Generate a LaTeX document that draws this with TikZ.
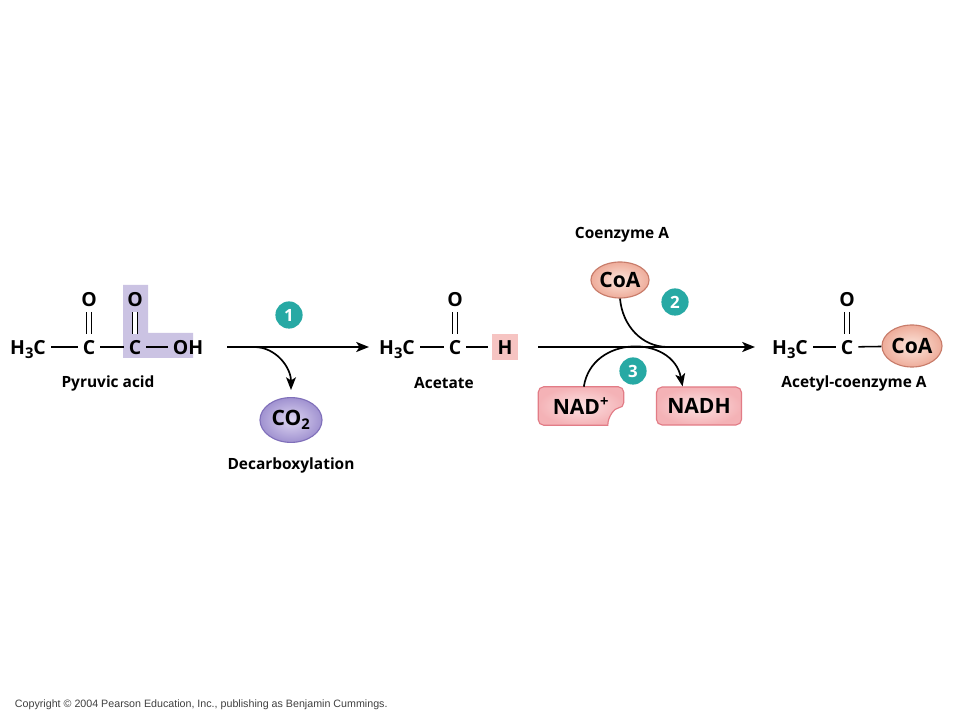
\documentclass[tikz,border=0pt]{standalone}
\usepackage{fontspec}
\setmainfont{Open Sans}
\newfontfamily\copyfont{Liberation Sans}
\usetikzlibrary{arrows.meta,shapes.geometric}
\definecolor{lavhl}{RGB}{203,195,227}
\definecolor{lavin}{RGB}{222,214,242}
\definecolor{lavout}{RGB}{160,146,208}
\definecolor{lavline}{RGB}{128,112,186}
\definecolor{pinkhl}{RGB}{246,196,194}
\definecolor{nadin}{RGB}{252,226,226}
\definecolor{nadout}{RGB}{244,178,182}
\definecolor{nadline}{RGB}{226,124,134}
\definecolor{coain}{RGB}{252,230,220}
\definecolor{coaout}{RGB}{238,172,154}
\definecolor{coaline}{RGB}{200,124,106}
\definecolor{tealnum}{RGB}{39,169,164}
\newcommand{\subthree}{\raisebox{-0.45ex}{\fontsize{10.5}{11}\selectfont 3}}
\tikzset{
	atom/.style={font=\fontsize{13.8}{16}\selectfont\bfseries, inner sep=1pt, text height=10pt, text depth=0pt},
	lbl/.style={font=\fontsize{11}{13}\selectfont\bfseries},
	bond/.style={line width=1.1pt, shorten <=2.5pt, shorten >=2.5pt},
	dbond/.style={double, double distance=2.8pt, line width=0.9pt, shorten <=3pt, shorten >=3pt},
	stepnum/.style={circle, fill=tealnum, text=white, font=\fontsize{12}{12}\selectfont\bfseries, minimum size=0.68cm, inner sep=0pt},
	lavell/.style={ellipse, draw=lavline, line width=0.8pt, inner color=lavin, outer color=lavout, font=\fontsize{15}{15}\selectfont\bfseries, inner sep=0pt},
	coaell/.style={ellipse, draw=coaline, line width=0.8pt, inner color=coain, outer color=coaout, font=\fontsize{15}{15}\selectfont\bfseries, inner sep=0pt},
	nadbox/.style={draw=nadline, line width=0.8pt, inner color=nadin, outer color=nadout},
	rxn/.style={line width=1.7pt},
	side/.style={line width=1.2pt}
}
\begin{document}
\begin{tikzpicture}[x=0.025cm,y=-0.025cm,>={Stealth[length=9pt,width=7pt,inset=2.2pt]}]
	\useasboundingbox (0,0) rectangle (960,720);
	\fill[white] (0,0) rectangle (960,720);

	\fill[lavhl] (123,285) -- (148,285) -- (148,333) -- (193,333) -- (193,358) -- (123,358) -- cycle;
	\node[atom] (h3ca) at (28,347) {H\subthree C}; \node[atom] (c1a) at (89,347) {C};
	\node[atom] (c2a) at (135,347) {C}; \node[atom] (oha) at (188,347) {OH};
	\node[atom] (o1a) at (89,299) {O}; \node[atom] (o2a) at (135,299) {O};
	\draw[bond] (h3ca) -- (c1a); \draw[bond] (c1a) -- (c2a); \draw[bond] (c2a) -- (oha);
	\draw[dbond] (o1a) -- (c1a); \draw[dbond] (o2a) -- (c2a);
	\node[lbl] (pyr) at (108,383) {Pyruvic acid};

	\coordinate (r1s) at (227,347); \coordinate (r1e) at (369,347); \coordinate (r1b) at (254,347);
	\node[stepnum] (n1) at (289,315) {1};
	\node[lavell, minimum width=1.55cm, minimum height=1.12cm] (co2) at (291,420) {CO\textsubscript{2}};
	\node[lbl] (decarb) at (291,465) {Decarboxylation};
	\draw[rxn,->] (r1s) -- (r1e);
	\draw[side,->] (r1b) to[out=0,in=90] ([yshift=5pt]co2.north);

	\node[atom] (h3cb) at (397,347) {H\subthree C}; \node[atom] (cb) at (455,347) {C};
	\node[atom, fill=pinkhl, minimum width=0.65cm, minimum height=0.65cm, inner sep=0pt] (hb) at (505,347) {H};
	\node[atom] (ob) at (455,299) {O};
	\draw[bond] (h3cb) -- (cb); \draw[bond] (cb) -- (hb); \draw[dbond] (ob) -- (cb);
	\node[lbl] (acet) at (444,383) {Acetate};

	\coordinate (r2s) at (538,347); \coordinate (r2e) at (755,347); \coordinate (r2m) at (668,347);
	\node[lbl] (coename) at (622,235) {Coenzyme A};
	\node[coaell, minimum width=1.35cm, minimum height=0.9cm] (coa) at (620,280) {CoA};
	\node[stepnum] (n2) at (675,302) {2};
	\node[stepnum] (n3) at (633,371) {3};
	\node[minimum width=2.125cm, minimum height=0.95cm] (nad) at (581,406) {};
	\shade[nadbox, rounded corners=4pt] ([xshift=-0.4cm]nad.south east) -- (nad.south west) -- (nad.north west) -- (nad.north east) -- ([yshift=0.43cm]nad.south east) [sharp corners] .. controls +(-9,0) and +(0,-9) .. ([xshift=-0.4cm]nad.south east) -- cycle;
	\node[font=\fontsize{15}{15}\selectfont\bfseries] (nadtxt) at (nad) {NAD\textsuperscript{+}};
	\node[nadbox, rounded corners=4pt, minimum width=2.125cm, minimum height=0.95cm, font=\fontsize{15}{15}\selectfont\bfseries] (nadh) at (699,406) {NADH};
	\draw[rxn,->] (r2s) -- (r2e);
	\draw[side] (coa.south) to[out=-85,in=180] (r2m);
	\draw[side,->] ([xshift=2pt]nad.north) .. controls +(8,-52) and +(-10,-52) .. (nadh.130);

	\node[atom] (h3cc) at (790,347) {H\subthree C}; \node[atom] (cc) at (847,347) {C};
	\node[atom] (oc) at (847,299) {O};
	\node[coaell, minimum width=1.5cm, minimum height=1.05cm] (coac) at (912,346) {CoA};
	\draw[bond] (h3cc) -- (cc); \draw[bond,shorten >=0pt] (cc) -- (coac); \draw[dbond] (oc) -- (cc);
	\node[lbl] (acoa) at (854,383) {Acetyl-coenzyme A};

	\node[anchor=west, font=\copyfont\fontsize{7.6}{9}\selectfont, text=black!75] (copy) at (10,705) {Copyright \textcopyright{} 2004 Pearson Education, Inc., publishing as Benjamin Cummings.};
\end{tikzpicture}
\end{document}
